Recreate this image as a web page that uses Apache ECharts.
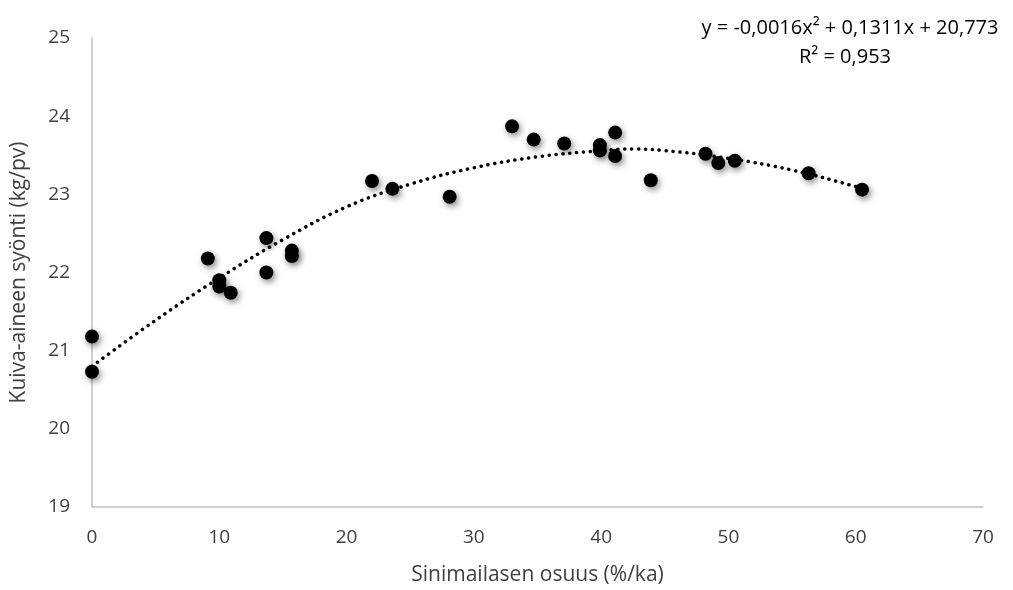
<!DOCTYPE html>
<html>
<head>
<meta charset="utf-8">
<script src="https://cdn.jsdelivr.net/npm/echarts@6/dist/echarts.min.js"></script>
<style>
  html, body { margin: 0; padding: 0; background: #fff; }
  #main { width: 1013px; height: 590px; }
</style>
</head>
<body>
<div id="main"></div>
<script>
// havainnot (luettu kuvasta)
var osuus = [0, 0, 9.1, 10.0, 10.0, 10.9, 13.7, 13.7, 15.7, 15.7, 22.0, 23.6, 28.1,
  33.0, 34.7, 37.1, 39.9, 39.9, 41.1, 41.1, 43.9, 48.2, 49.2, 50.5, 56.3, 60.5];
var syonti = [21.18, 20.73, 22.18, 21.90, 21.82, 21.74, 22.44, 22.00, 22.28, 22.21, 23.17, 23.07, 22.97,
  23.87, 23.70, 23.65, 23.63, 23.56, 23.79, 23.49, 23.18, 23.52, 23.40, 23.43, 23.27, 23.06];

// trendiviiva (luettu kuvasta)
var trendX = [0, 5, 10, 15, 20, 25, 30, 35, 40, 42.5, 45, 50, 55, 60, 60.5];
var trendY = [20.80, 21.39, 21.93, 22.42, 22.84, 23.13, 23.34, 23.48, 23.56, 23.58, 23.56, 23.46, 23.31, 23.10, 23.07];

var xTicks = [0, 70, 10];
var yTicks = [19, 25, 1];

var fontFam = '"Open Sans", "Liberation Sans", sans-serif';
var txtColor = '#404040';

var chart = echarts.init(document.getElementById('main'));

var pisteet = osuus.map(function (x, i) { return [x, syonti[i]]; });
var trendi = trendX.map(function (x, i) { return [x, trendY[i]]; });

var option = {
  backgroundColor: '#fff',
  animation: false,
  grid: { left: 92, right: 30, top: 38, bottom: 83, containLabel: false, outerBoundsMode: 'none' },
  xAxis: {
    type: 'value',
    min: xTicks[0], max: xTicks[1], interval: xTicks[2],
    name: 'Sinimailasen osuus (%/ka)',
    nameLocation: 'middle',
    nameGap: 58,
    nameTextStyle: { fontFamily: fontFam, fontSize: 21, color: txtColor },
    axisLine: { show: true, lineStyle: { color: '#bfbfbf', width: 1.5 } },
    axisTick: { show: false },
    splitLine: { show: false },
    axisLabel: { margin: 21, fontFamily: fontFam, fontSize: 19, color: txtColor }
  },
  yAxis: {
    type: 'value',
    min: yTicks[0], max: yTicks[1], interval: yTicks[2],
    name: 'Kuiva-aineen syönti (kg/pv)',
    nameLocation: 'middle',
    nameGap: 62,
    nameTextStyle: { fontFamily: fontFam, fontSize: 21, color: txtColor },
    axisLine: { show: true, lineStyle: { color: '#bfbfbf', width: 1.5 } },
    axisTick: { show: false },
    splitLine: { show: false },
    axisLabel: { margin: 22, fontFamily: fontFam, fontSize: 19, color: txtColor }
  },
  series: [
    {
      name: 'trendi',
      type: 'line',
      data: trendi,
      smooth: 0.4,
      symbol: 'none',
      z: 2,
      lineStyle: { color: '#000', width: 3.5, type: [0.1, 6.8], cap: 'round' }
    },
    {
      name: 'syönti',
      type: 'scatter',
      data: pisteet,
      symbolSize: 14,
      z: 3,
      itemStyle: {
        color: '#000',
        opacity: 1,
        shadowBlur: 6,
        shadowColor: 'rgba(0,0,0,0.45)',
        shadowOffsetX: 2,
        shadowOffsetY: 3
      }
    }
  ],
  graphic: [
    {
      type: 'text',
      style: {
        x: 850, y: 28, text: 'y = -0,0016x² + 0,1311x + 20,773',
        align: 'center', verticalAlign: 'middle',
        font: '20px ' + fontFam, fill: '#000'
      }
    },
    {
      type: 'text',
      style: {
        x: 845, y: 57, text: 'R² = 0,953',
        align: 'center', verticalAlign: 'middle',
        font: '20px ' + fontFam, fill: '#000'
      }
    }
  ]
};

chart.setOption(option);
</script>
</body>
</html>
